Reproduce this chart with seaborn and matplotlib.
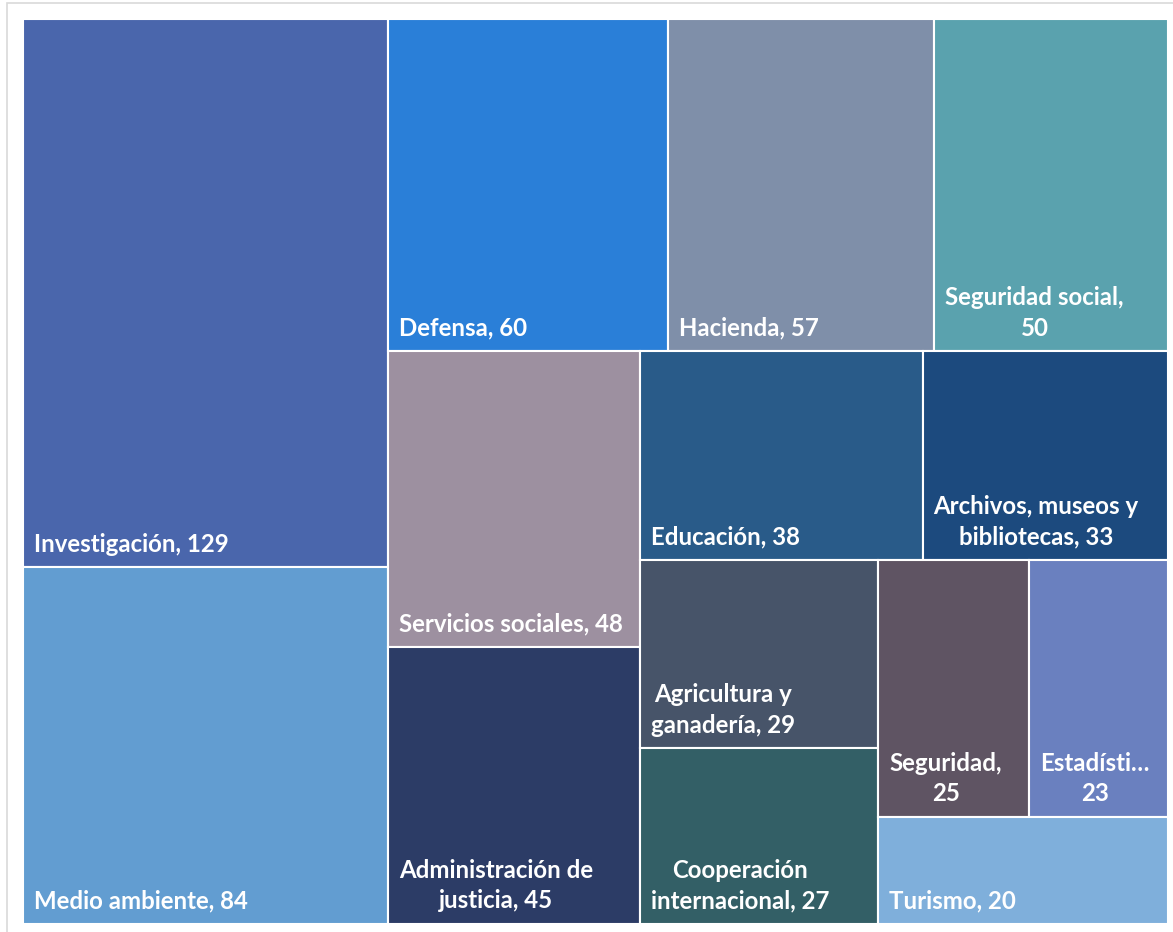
import matplotlib.pyplot as plt
import seaborn as sns
from matplotlib.patches import Rectangle

# datos del treemap (orden como en el grafico)
categorias = ["Investigación", "Medio ambiente", "Defensa", "Hacienda", "Seguridad social",
              "Servicios sociales", "Administración de justicia", "Educación",
              "Archivos, museos y bibliotecas", "Agricultura y ganadería",
              "Cooperación internacional", "Seguridad", "Estadística", "Turismo"]
valores = [129, 84, 60, 57, 50, 48, 45, 38, 33, 29, 27, 25, 23, 20]
# etiquetas tal como aparecen (con saltos de linea y recorte)
etiquetas = ["Investigación, 129", "Medio ambiente, 84", "Defensa, 60", "Hacienda, 57",
             "Seguridad social,\n50", "Servicios sociales, 48", "Administración de\njusticia, 45",
             "Educación, 38", "Archivos, museos y\nbibliotecas, 33", "Agricultura y\nganadería, 29",
             "Cooperación\ninternacional, 27", "Seguridad,\n25", "Estadísti…\n23", "Turismo, 20"]
colores = ["#4A66AC", "#629DD1", "#2A7FD8", "#7F8FA9", "#5AA2AE", "#9D90A0", "#2C3C66",
           "#295B89", "#1C4A7E", "#475469", "#335F66", "#5F5463", "#6A80BF", "#7FAFDB"]


def worst(fila, lado):
    s = sum(fila)
    return max(max(lado * lado * v / (s * s), s * s / (lado * lado * v)) for v in fila)


def squarify(vals, x, y, w, h):
    """Algoritmo squarified (Bruls et al.), y crece hacia abajo."""
    rects = []
    vals = list(vals)
    total = sum(vals)
    escala = w * h / total
    areas = [v * escala for v in vals]
    while areas:
        lado = min(w, h)
        fila = [areas[0]]
        i = 1
        while i < len(areas) and worst(fila + [areas[i]], lado) <= worst(fila, lado):
            fila.append(areas[i])
            i += 1
        areas = areas[i:]
        s = sum(fila)
        if w >= h:
            ancho = s / h
            yy = y
            for a in fila:
                alto = a / ancho
                rects.append((x, yy, ancho, alto))
                yy += alto
            x += ancho
            w -= ancho
        else:
            alto = s / w
            xx = x
            for a in fila:
                ancho = a / alto
                rects.append((xx, y, ancho, alto))
                xx += ancho
            y += alto
            h -= alto
    return rects


sns.set_style("white")
plt.rcParams["font.family"] = ["Lato", "DejaVu Sans"]

W, H = 1145, 905
fig = plt.figure(figsize=(11.73, 9.32), dpi=100)
fig.patches.append(Rectangle((7 / 1173, -0.01), 1.01, 1 - 3 / 932 + 0.01, transform=fig.transFigure,
                             facecolor="none", edgecolor="#D9D9D9", linewidth=1.2, zorder=0))
ax = fig.add_axes([23 / 1173, 1 - 924 / 932, W / 1173, H / 932])

rects = squarify(valores, 0, 0, W, H)
for (x, y, w, h), c, lab in zip(rects, colores, etiquetas):
    ax.bar(x, h, width=w, bottom=y, align="edge", color=c, edgecolor="white", linewidth=1.5)
    ax.text(x + 11, y + h - 11.5, lab, color="white", fontsize=17.3, fontweight="bold",
            ha="left", va="bottom", multialignment="center", linespacing=1.4)

ax.set_xlim(0, W)
ax.set_ylim(H, 0)
ax.axis("off")

fig.savefig("out.png", dpi=100)
